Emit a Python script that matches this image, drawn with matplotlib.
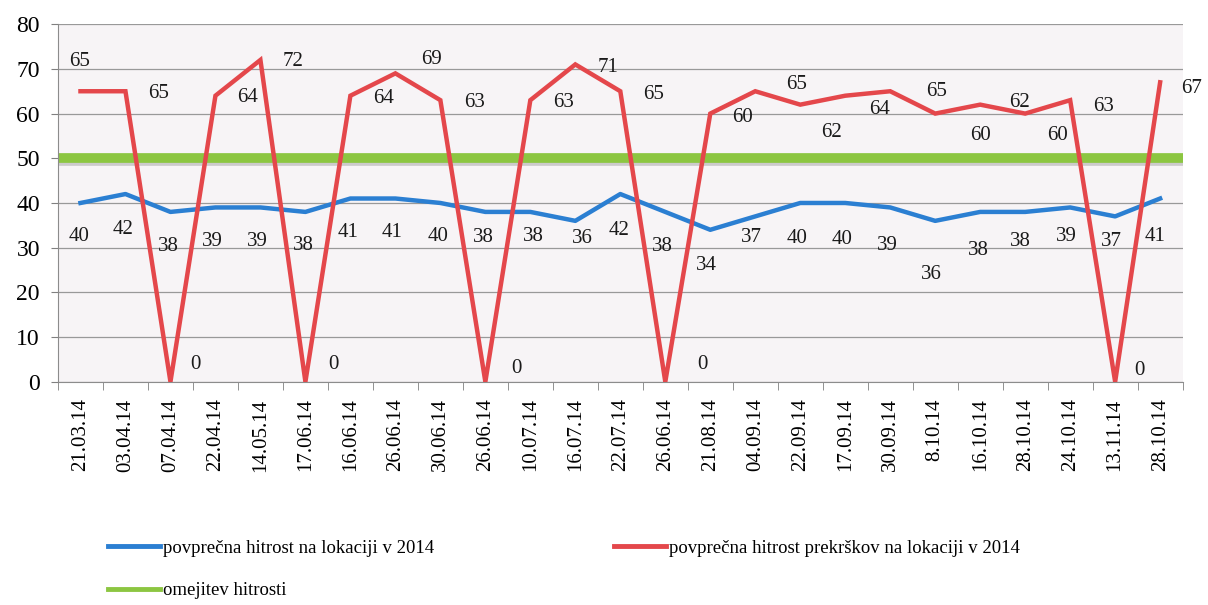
import matplotlib.pyplot as plt
import matplotlib.patheffects as pe
from matplotlib.lines import Line2D
import numpy as np

plt.rcParams['font.family'] = ['Liberation Serif', 'DejaVu Serif']

dates = ['21.03.14', '03.04.14', '07.04.14', '22.04.14', '14.05.14', '17.06.14',
         '16.06.14', '26.06.14', '30.06.14', '26.06.14', '10.07.14', '16.07.14',
         '22.07.14', '26.06.14', '21.08.14', '04.09.14', '22.09.14', '17.09.14',
         '30.09.14', '8.10.14', '16.10.14', '28.10.14', '24.10.14', '13.11.14',
         '28.10.14']
avg_speed = [40, 42, 38, 39, 39, 38, 41, 41, 40, 38, 38, 36, 42, 38, 34, 37,
             40, 40, 39, 36, 38, 38, 39, 37, 41]
offence_speed = [65, 65, 0, 64, 72, 0, 64, 69, 63, 0, 63, 71, 65, 0, 60, 65,
                 62, 64, 65, 60, 62, 60, 63, 0, 67]
speed_limit = 50

label_avg = 'povprečna hitrost na lokaciji v 2014'
label_off = 'povprečna hitrost prekrškov na lokaciji v 2014'
label_lim = 'omejitev hitrosti'

# label offsets in pixels (dx, dy), as placed in the original chart
off_red = [(-1, 30), (33, -2), (25, 17), (32, -2), (33, -2), (28, 17), (33, -3),
           (36, 14), (34, -2), (31, 13), (33, -2), (33, -3), (33, -3), (37, 17),
           (32, -4), (41, 7), (31, -28), (34, -14), (46, 0), (45, -22), (39, 2),
           (32, -22), (33, -6), (24, 11), (31, -6)]
off_blue = [(-1, -34), (-2, -35), (-2, -35), (-3, -34), (-3, -34), (-2, -34),
            (-2, -34), (-3, -34), (-2, -34), (-2, -26), (3, -25), (7, -18),
            (-1, -36), (-3, -35), (-4, -36), (-4, -21), (-3, -36), (-3, -37),
            (-3, -38), (-4, -54), (-2, -39), (-5, -30), (-4, -29), (-4, -25),
            (-5, -38)]

red = '#e4474b'
blue = '#2b7fd2'
green = '#8cc641'

fig = plt.figure(figsize=(12.08, 6.05), dpi=100)
ax = fig.add_axes([0.048, 0.369, 0.931, 0.591])
ax.set_facecolor('#f7f4f6')

x = np.arange(len(dates))
ax.axhline(speed_limit, color=green, lw=7, zorder=2,
           path_effects=[pe.SimpleLineShadow(offset=(0, -2), shadow_color='0.55', alpha=0.4),
                         pe.Normal()])
ax.plot(x, avg_speed, color=blue, lw=3.2, zorder=3, solid_joinstyle='round')
ax.plot(x, offence_speed, color=red, lw=3.2, zorder=4, solid_joinstyle='miter')

for i, v in enumerate(offence_speed):
    ax.annotate(str(v), (x[i], v), xytext=off_red[i], textcoords='offset pixels',
                ha='center', va='center', fontsize=15, color='#1a1a1a')
for i, v in enumerate(avg_speed):
    ax.annotate(str(v), (x[i], v), xytext=off_blue[i], textcoords='offset pixels',
                ha='center', va='center', fontsize=15, color='#1a1a1a')

ax.set_xlim(-0.5, len(dates) - 0.5)
ax.set_ylim(0, 80)
ax.set_yticks(range(0, 81, 10))
ax.tick_params(axis='y', labelsize=17, length=5, color='0.5', pad=8)
ax.set_xticks(x)
ax.set_xticklabels(dates, rotation=90, fontsize=15)
ax.set_xticks(np.arange(-0.5, len(dates)), minor=True)
ax.tick_params(axis='x', which='major', length=0, pad=12)
ax.tick_params(axis='x', which='minor', length=6, color='0.5')
ax.grid(axis='y', color='0.6', lw=0.9)
ax.set_axisbelow(True)
for s in ['top', 'right']:
    ax.spines[s].set_visible(False)
for s in ['left', 'bottom']:
    ax.spines[s].set_color('0.55')

handles = [Line2D([], [], color=blue, lw=3.5),
           Line2D([], [], color=green, lw=3.5),
           Line2D([], [], color=red, lw=3.5)]
fig.legend(handles, [label_avg, label_lim, label_off], ncol=2, frameon=False,
           loc='upper left', bbox_to_anchor=(0.089, 0.108), fontsize=13.5,
           handlelength=2.8, handletextpad=0.15, columnspacing=9.6,
           labelspacing=1.35, borderaxespad=0, borderpad=0)

fig.savefig('out.png', dpi=100, facecolor='white')
